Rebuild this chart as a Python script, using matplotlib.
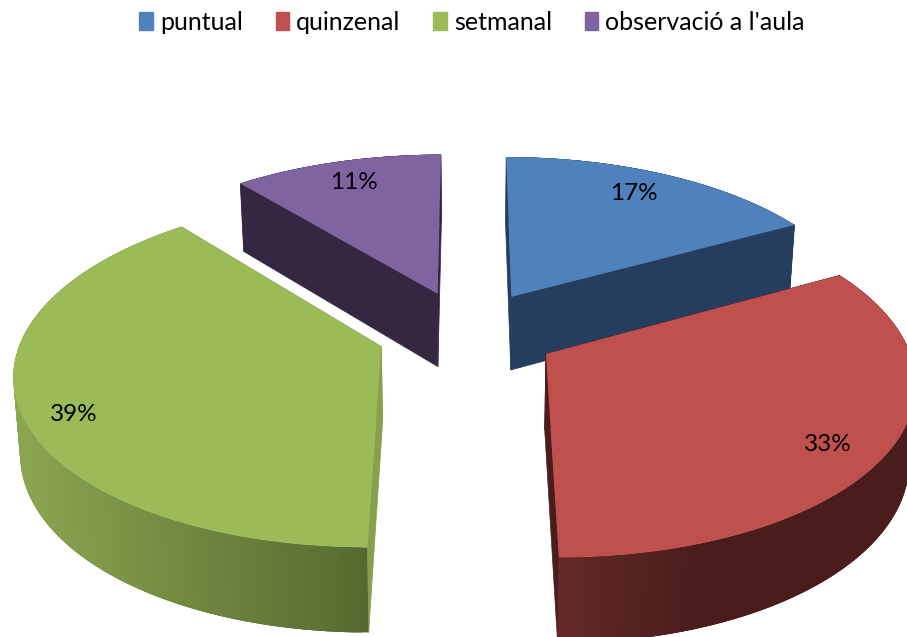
import numpy as np
import matplotlib
matplotlib.use("Agg")
import matplotlib.pyplot as plt
from matplotlib.patches import Patch

labels = ["puntual", "quinzenal", "setmanal", "observació a l'aula"]
values = [17, 33, 39, 11]

top_colors = ["#4F81BD", "#C0504D", "#9BBB59", "#8064A2"]
cut_colors = ["#253D5E", "#4A1D1C", "#86A04C", "#352741"]
# colour of the outer wall, left end and right end
wall_left = ["#253D5E", "#652A28", "#8CA650", "#352741"]
wall_right = ["#253D5E", "#4A1D1C", "#566A30", "#352741"]

# projection of the tilted disk, in pixels
CX, CY = 467, 332
R = 358
TILT = 0.47
PERSP = 0.14
EXPLODE = 90
DEPTH = 75
SHRINK = 0.985

# where the percent labels sit inside their slice
LABEL_RADIUS = [0.83, 0.85, 0.875, 0.845]
LABEL_TURN = [-2.1, 3.4, -4.8, 0.4]


def project(X, Y, lower=False):
    s = 1 / (1 + PERSP * Y / R)
    if lower:
        return CX + X * s * SHRINK, CY - TILT * Y * s * SHRINK + DEPTH * s
    return CX + X * s, CY - TILT * Y * s


def mix(c1, c2, t):
    a = np.array(matplotlib.colors.to_rgb(c1))
    b = np.array(matplotlib.colors.to_rgb(c2))
    return tuple(a + (b - a) * t)


fig = plt.figure(figsize=(9.07, 6.37), dpi=100)
ax = fig.add_axes([0, 0, 1, 1])
ax.set_xlim(0, 907)
ax.set_ylim(637, 0)
ax.axis("off")

shares = np.array(values) / sum(values)
edges = np.concatenate([[0], np.cumsum(shares)]) * 2 * np.pi

# back slices first, the front ones cover them
for i in [0, 3, 2, 1]:
    a0, a1 = edges[i], edges[i + 1]
    mid = (a0 + a1) / 2
    ox, oy = EXPLODE * np.sin(mid), EXPLODE * np.cos(mid)
    th = np.linspace(a0, a1, 160)
    ex, ey = ox + R * np.sin(th), oy + R * np.cos(th)

    # cut faces
    for a in [a0, a1]:
        px, py = ox + R * np.sin(a), oy + R * np.cos(a)
        t_x, t_y = project(np.array([ox, px]), np.array([oy, py]))
        b_x, b_y = project(np.array([px, ox]), np.array([py, oy]), lower=True)
        ax.fill(np.r_[t_x, b_x], np.r_[t_y, b_y], color=cut_colors[i], lw=0.5, zorder=1 + i * 0.01)

    # outer wall, strips overlap so no seams show in the gradient
    tx, ty = project(ex, ey)
    bx, by = project(ex, ey, lower=True)
    for j in range(len(th) - 1):
        k = min(j + 3, len(th) - 1)
        t = np.clip((tx[j] - tx.min()) / (tx.max() - tx.min() + 1), 0, 1)
        if i == 1:
            t = np.clip((tx[j] - 558) / 140, 0, 1)
        ax.fill([tx[j], tx[k], bx[k], bx[j]], [ty[j], ty[k], by[k], by[j]],
                color=mix(wall_left[i], wall_right[i], t), lw=0, zorder=1 + i * 0.01)

    # top of the slice
    x_top, y_top = project(np.r_[ox, ex], np.r_[oy, ey])
    ax.fill(x_top, y_top, color=top_colors[i], lw=0, zorder=1 + i * 0.01)

    turn = mid + np.radians(LABEL_TURN[i])
    lx, ly = project(ox + LABEL_RADIUS[i] * R * np.sin(turn), oy + LABEL_RADIUS[i] * R * np.cos(turn))
    ax.text(lx + 1, ly + 2, f"{values[i]}%", ha="center", va="center", fontsize=17.5, family="Lato", color="black", zorder=5)

handles = [Patch(color=c, label=l) for c, l in zip(top_colors, labels)]
ax.legend(handles=handles, loc="upper center", bbox_to_anchor=(0.5205, 0.995), ncols=4, frameon=False,
          prop={"family": "Lato", "size": 18}, handlelength=0.55, handleheight=0.75,
          handletextpad=0.28, columnspacing=1.3, borderaxespad=0.1, borderpad=0.2)

fig.savefig("out.png", dpi=100)
